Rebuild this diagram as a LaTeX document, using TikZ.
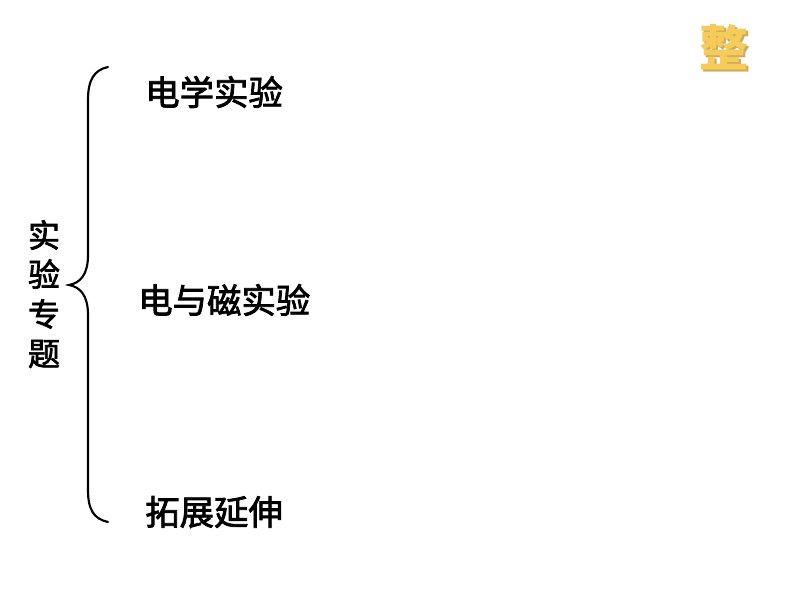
\documentclass[tikz,border=0pt]{standalone}
\usepackage{fontspec}
\newfontfamily\cjk{Noto Sans CJK SC}
\newfontfamily\cjkm[FakeBold=2.2]{Noto Sans CJK SC}
\definecolor{gold}{HTML}{F6CB58}
\definecolor{goldshadow}{HTML}{C8AA6A}
\begin{document}
\begin{tikzpicture}[x=0.75pt,y=-0.75pt,
  lbl/.style={font=\cjkm\fontsize{25.8}{28}\selectfont, inner sep=0pt, anchor=west},
  vlbl/.style={font=\cjkm\fontsize{24}{26}\selectfont, inner sep=0pt},
  brace/.style={line width=1.6pt, line cap=round}]
\useasboundingbox (0,0) rectangle (794,596);
% top-right character with shadow
\node[font=\cjk\bfseries\fontsize{37}{40}\selectfont, text=goldshadow, inner sep=0pt] (zs) at (726,49) {整};
\node[font=\cjk\bfseries\fontsize{37}{40}\selectfont, text=gold, inner sep=0pt] (z) at (724,47) {整};
% vertical label
\node[vlbl] (v1) at (44,235) {实};
\node[vlbl] (v2) at (44,274) {验};
\node[vlbl] (v3) at (44,314) {专};
\node[vlbl] (v4) at (44,354) {题};
% brace
\coordinate (bt) at (108,67);
\coordinate (bm) at (69,285);
\coordinate (bb) at (108,522);
\draw[brace] (bt) .. controls (94,70) and (88,80) .. (88,100)
  -- (88,255) .. controls (88,275) and (80,283) .. (bm)
  .. controls (80,287) and (88,295) .. (88,315)
  -- (88,490) .. controls (88,510) and (94,519) .. (bb);
% items
\node[lbl] (a) at (145,92) {电学实验};
\node[lbl] (b) at (138,300) {电与磁实验};
\node[lbl] (c) at (145,512) {拓展延伸};
\end{tikzpicture}
\end{document}
